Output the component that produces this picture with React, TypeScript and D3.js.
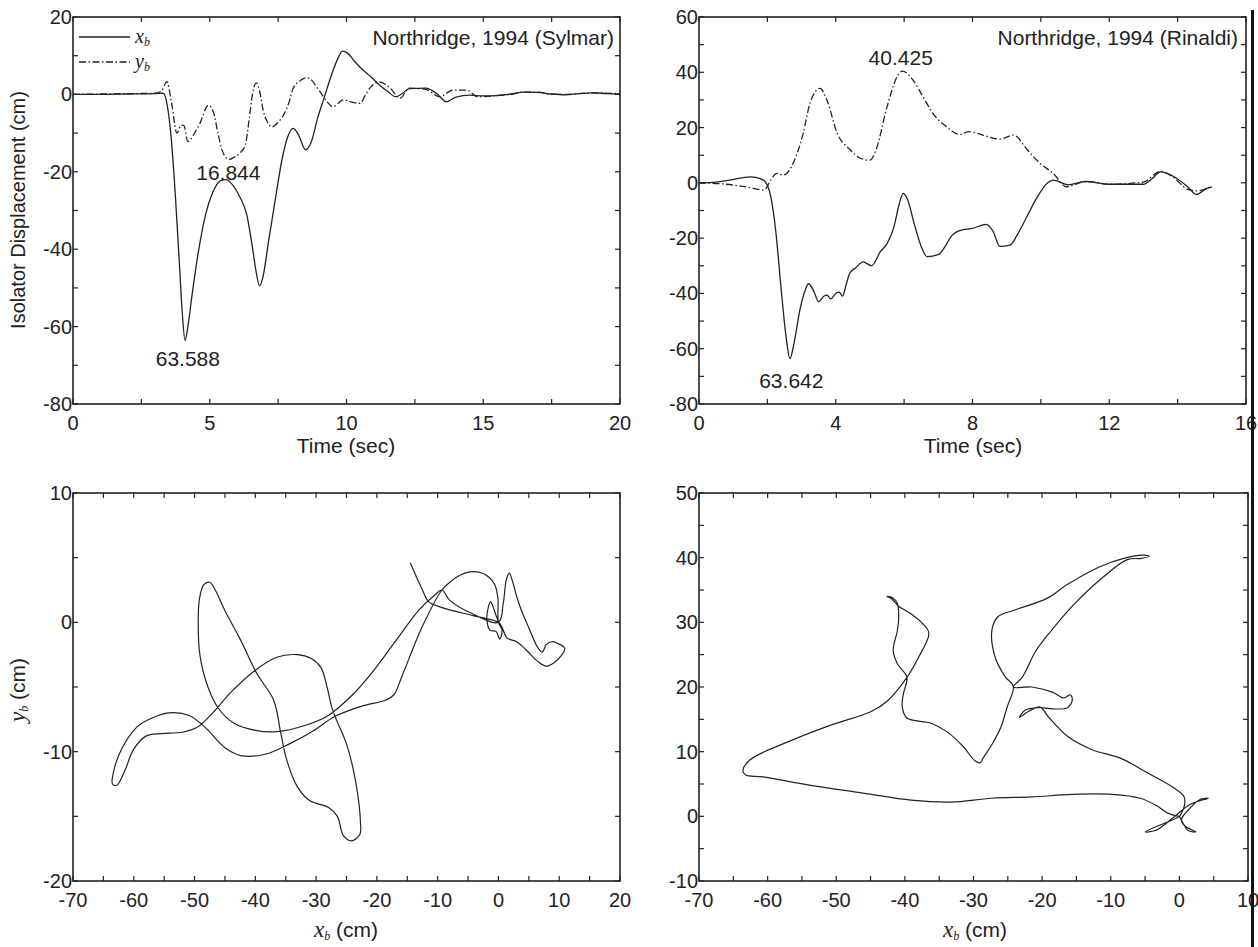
import React from "react";
import * as d3 from "d3";

// Northridge 1994, Sylmar record: isolator displacement (cm) vs time (sec)
const sylmarXb: [number, number][] = [
  [0, 0], [1, 0], [2, 0.1], [3, 0.2], [3.3, 0.3], [3.45, -3], [3.6, -12], [3.75, -27], [3.9, -45],
  [4.0, -57], [4.1, -63.6], [4.2, -60], [4.35, -52], [4.6, -40], [4.85, -31], [5.1, -25.5],
  [5.4, -22.3], [5.6, -22], [5.85, -23.5], [6.1, -26.5], [6.35, -31], [6.55, -39], [6.7, -46],
  [6.82, -49.5], [6.95, -47], [7.15, -38], [7.4, -27], [7.65, -16.5], [7.85, -11], [8.05, -8.8],
  [8.25, -10.5], [8.5, -14.3], [8.7, -12.5], [8.95, -6], [9.2, -0.5], [9.45, 5], [9.7, 9.5],
  [9.85, 11.2], [10.05, 10.6], [10.3, 8.5], [10.6, 6.3], [10.9, 4.5], [11.2, 2.4], [11.5, 0.8],
  [11.8, -0.6], [12.05, 0.3], [12.3, 1.5], [12.9, 1.6], [13.3, 0.2], [13.65, -1.9], [14.0, -0.7],
  [14.5, -0.2], [15, -0.4], [15.5, -0.3], [16, 0.1], [16.5, 0.6], [17, 0.5], [17.5, 0.1],
  [18, -0.1], [18.5, 0.2], [19, 0.4], [19.5, 0.2], [20, 0.1],
];

const sylmarYb: [number, number][] = [
  [0, 0], [1, 0.1], [2, 0.2], [3, 0.3], [3.25, 1], [3.43, 3.3], [3.6, -2], [3.8, -10], [3.95, -8],
  [4.05, -8], [4.2, -12.2], [4.4, -10.5], [4.64, -7.5], [4.95, -2.8], [5.13, -4.5], [5.3, -10],
  [5.45, -14.4], [5.7, -16.8], [5.9, -16.2], [6.1, -15.2], [6.3, -13], [6.45, -6], [6.55, -0.5],
  [6.7, 3], [6.85, 0], [6.95, -4], [7.1, -7], [7.27, -8.4], [7.5, -7.2], [7.7, -5.3], [7.9, -2],
  [8.05, 1.6], [8.3, 3.5], [8.55, 4.3], [8.75, 3.5], [8.9, 2], [9.1, 0], [9.3, -2], [9.5, -3.2],
  [9.7, -2.3], [9.87, -1.4], [10.2, -2], [10.5, -2.3], [10.7, 0], [10.9, 2], [11.2, 3.2],
  [11.6, 1.6], [11.95, -1], [12.3, 1.6], [12.9, 1.3], [13.4, -0.6], [13.9, 1.1], [14.4, 1.1],
  [14.8, -0.6], [15.5, -0.3], [16, 0], [16.5, 0.6], [17, 0.6], [17.5, 0], [18, 0], [19, 0.4], [20, 0.2],
];

// Northridge 1994, Rinaldi record
const rinaldiXb: [number, number][] = [
  [0, 0], [0.5, 0.3], [0.9, 1], [1.5, 2.2], [1.8, 1.5], [1.95, 0.2], [2.1, -5], [2.25, -18],
  [2.4, -38], [2.55, -56], [2.66, -63.6], [2.78, -58], [2.95, -46], [3.1, -39], [3.2, -36.5],
  [3.35, -39], [3.5, -43], [3.65, -41], [3.75, -40.6], [3.85, -42], [4.0, -40], [4.1, -39.5],
  [4.2, -41], [4.3, -37], [4.4, -33], [4.6, -30.5], [4.8, -28.6], [5.05, -30], [5.3, -25],
  [5.5, -22], [5.7, -16], [5.85, -8], [5.97, -3.8], [6.1, -6], [6.3, -15], [6.5, -23],
  [6.67, -26.7], [7.0, -26], [7.2, -23], [7.4, -19], [7.7, -17], [8.0, -16.5], [8.4, -15],
  [8.6, -17.5], [8.8, -23], [9.1, -22.5], [9.3, -19], [9.6, -12], [9.9, -5], [10.2, 0],
  [10.35, 1], [10.8, -0.7], [11.3, 0.5], [12, -0.5], [13, -0.5], [13.25, 1.5], [13.5, 4],
  [13.9, 2.2], [14.3, -1.5], [14.55, -4.2], [14.85, -2], [15, -1.5],
];

const rinaldiYb: [number, number][] = [
  [0, 0], [0.7, -0.4], [1.4, -1.5], [1.9, -2.6], [2.1, 1], [2.27, 3.4], [2.47, 2.8], [2.75, 7],
  [3.05, 18], [3.25, 29], [3.54, 34.2], [3.74, 30], [4.04, 18], [4.42, 12], [4.7, 9], [5.0, 8.2],
  [5.18, 12], [5.5, 27.5], [5.8, 38.5], [5.95, 40.4], [6.27, 37], [6.56, 31], [6.85, 25],
  [7.24, 20.3], [7.63, 17.5], [7.9, 18.5], [8.3, 17.3], [8.8, 15.8], [9.2, 17.3], [9.6, 12],
  [9.97, 7.1], [10.36, 3.4], [10.75, -1.4], [11.3, 0.5], [12, -0.5], [13, 0.3], [13.5, 4.2],
  [13.9, 1.8], [14.3, -2.4], [14.55, -2.9], [14.9, -2],
];

// orbits: [xb, yb] in cm
const sylmarOrbit: [number, number][] = [
  [0, 0], [-0.6, 0.8], [-1.3, 1.6], [-1.7, 1.1], [-1.9, 0.2], [-1.4, -0.6], [-0.4, -0.7],
  [0.2, -1.3], [0.6, -0.6], [0, 0], [-0.1, 1.9], [-0.6, 2.9], [-1.6, 3.5], [-3, 3.85],
  [-4.7, 3.9], [-6.5, 3.6], [-8, 3.1], [-9.3, 2.5], [-12.6, -0.4], [-15.9, -4.2], [-17.2, -5.6],
  [-18.5, -6], [-22.6, -6.5], [-27, -7.3], [-30.5, -8.4], [-34.4, -9.4], [-38.4, -10.2],
  [-42.4, -10.3], [-45, -9.7], [-48.3, -8.1], [-50.9, -7.2], [-54.2, -7.0], [-57, -7.4],
  [-59.5, -8.1], [-62, -9.8], [-63.3, -11.5], [-63.5, -12.5], [-62.8, -12.6], [-61.5, -11.5],
  [-60, -9.8], [-58, -8.8], [-55.5, -8.6], [-52, -8.5], [-49.5, -8.1], [-47, -7], [-44, -5.4],
  [-40, -3.7], [-36.5, -2.7], [-33.1, -2.5], [-30.8, -2.8], [-29.2, -3.5], [-28.2, -5],
  [-27.4, -6.6], [-26.6, -7.6], [-25, -9.4], [-23.5, -12.3], [-22.7, -15.5], [-22.8, -16.4],
  [-24.2, -16.9], [-25.5, -16.5], [-26.5, -15], [-28, -14.3], [-31, -13.8], [-33.1, -12.7],
  [-34.8, -10.7], [-35.8, -8.6], [-37, -6], [-39.7, -4], [-42.5, -1.3], [-45, 0.9], [-46.6, 2.5],
  [-47.5, 3.1], [-48.5, 2.9], [-49.2, 1.8], [-49.4, 0], [-49.1, -2.6], [-47.8, -5], [-46, -6.7],
  [-43.5, -7.8], [-40, -8.35], [-36.4, -8.45], [-32, -8], [-28, -7.2], [-24, -5.6], [-21, -4],
  [-17, -1.5], [-13, 1], [-10.5, 2.1], [-9.3, 2.5], [-8, 1.7], [-4, 0.6], [0, 0], [0.8, 1.5],
  [1.3, 3.3], [1.8, 3.8], [2.3, 3.2], [3, 2], [3.8, 0.9], [4.7, -0.1], [5.6, -1.1], [6.4, -1.9],
  [7.2, -2.3], [7.9, -1.7], [8.8, -1.5], [9.6, -1.6], [10.9, -2], [10.3, -2.6], [9.2, -3.1],
  [7.9, -3.4], [6.4, -3], [4.7, -2.2], [3, -1.5], [1.4, -1.2], [0.6, -0.4], [0, 0], [-4, 0.5],
  [-9, 1.1], [-11.5, 1.6], [-12.5, 2.5], [-13.4, 3.4], [-14.5, 4.6],
];

const rinaldiOrbit: [number, number][] = [
  [0, 0], [-1.7, 0.5], [-3.4, 1.7], [-5.7, 2.8], [-9.8, 3.4], [-15.6, 3.4], [-21.5, 3],
  [-27.4, 2.8], [-33.3, 2.2], [-39.1, 2.5], [-46.1, 3.6], [-53.7, 4.8], [-60.7, 6.1],
  [-63.2, 6.4], [-63.6, 7], [-62.6, 8.7], [-56.6, 11.7], [-50.8, 14.1], [-44.9, 16.2],
  [-42.6, 17.8], [-39.7, 21.5], [-38, 24.6], [-36.5, 28.3], [-37.4, 29.8], [-39.1, 31.3],
  [-40.9, 32.5], [-42, 33.7], [-42.6, 34], [-41.8, 33.8], [-41.1, 32.9], [-40.9, 30.8],
  [-41.1, 28.7], [-41.7, 25.6], [-41.1, 23.6], [-39.7, 21.5], [-40.2, 19], [-40.4, 17],
  [-39.7, 15.2], [-36.2, 14.4], [-33.9, 13.1], [-31.5, 10.8], [-29.8, 8.6], [-29, 8.3],
  [-28.6, 9], [-27.2, 11.3], [-26, 13.8], [-25.1, 16.9], [-24.2, 20.1], [-25.4, 21.6],
  [-26.9, 24.8], [-27.3, 28.9], [-26.4, 30.9], [-24, 31.9], [-19.3, 33.7], [-16.4, 35.8],
  [-11.6, 38.6], [-8.1, 39.9], [-5.2, 40.4], [-4.4, 40.2], [-5.5, 39.9], [-7.6, 39.7],
  [-11.1, 37], [-15.7, 32.4], [-18.6, 28.8], [-20.9, 25.6], [-22.9, 21.5], [-24.2, 20],
  [-21.5, 20], [-18.5, 19.2], [-16.8, 18.3], [-15.9, 18.8], [-15.6, 18], [-16.3, 16.8],
  [-18, 16.6], [-20.5, 16.8], [-22.5, 16.4], [-23.3, 15.3], [-22, 16.2], [-20.3, 16.9],
  [-19.1, 15.4], [-16.2, 12.3], [-12.7, 10.3], [-8.6, 9], [-4.6, 6.7], [-1.1, 4.6], [0.7, 3],
  [0.7, 1.5], [0.3, 0.5], [0, 0], [-2, -1], [-5, -2.4], [-3.5, -2.2], [-1, -0.3], [1.5, 1.8],
  [4.2, 2.8], [3, 2.6], [1.5, 1.2], [0.3, -0.5], [0.8, -1.5], [2.4, -2.4], [1.3, -2.2],
  [0.5, -1], [0, 0],
];

const peakLabels = ["63.588", "16.844", "40.425", "63.642"];
const titles = ["Northridge, 1994 (Sylmar)", "Northridge, 1994 (Rinaldi)"];

const FONT = "'Liberation Sans', Arial, Helvetica, sans-serif";
const SERIF = "'Liberation Serif', 'Times New Roman', serif";
const INK = "#222";
const FS = 20; // tick labels
const FS_TXT = 21; // annotations, titles, axis labels

type PanelProps = {
  left: number;
  top: number;
  width: number;
  height: number;
  xDomain: [number, number];
  yDomain: [number, number];
  xMajor: number;
  xMinor: number;
  yMajor: number;
  yMinor: number;
  children: (x: d3.ScaleLinear<number, number>, y: d3.ScaleLinear<number, number>) => React.ReactNode;
};

function Panel({ left, top, width, height, xDomain, yDomain, xMajor, xMinor, yMajor, yMinor, children }: PanelProps) {
  const x = d3.scaleLinear().domain(xDomain).range([left, left + width]);
  const y = d3.scaleLinear().domain(yDomain).range([top + height, top]);
  const eps = 1e-9;
  const xt = d3.range(xDomain[0], xDomain[1] + eps, xMinor);
  const yt = d3.range(yDomain[0], yDomain[1] + eps, yMinor);
  const isMajor = (v: number, step: number, base: number) =>
    Math.abs((v - base) / step - Math.round((v - base) / step)) < 1e-6;
  const tl = 5;
  const bottom = top + height;
  const right = left + width;
  // plain hyphen for negatives, like the original plot
  const fmt = (v: number) => String(Math.round(v));
  return (
    <g>
      <defs>
        <clipPath id={`clip-${left}-${top}`}>
          <rect x={left} y={top} width={width} height={height} />
        </clipPath>
      </defs>
      <g clipPath={`url(#clip-${left}-${top})`}>{children(x, y)}</g>
      <rect x={left} y={top} width={width} height={height} fill="none" stroke={INK} strokeWidth={1.6} />
      {xt.map((v) => (
        <g key={`xt${v}`}>
          <line x1={x(v)} x2={x(v)} y1={bottom} y2={bottom - tl} stroke={INK} strokeWidth={1.2} />
          <line x1={x(v)} x2={x(v)} y1={top} y2={top + tl} stroke={INK} strokeWidth={1.2} />
          {isMajor(v, xMajor, xDomain[0]) && (
            <text x={x(v)} y={bottom + 26} textAnchor="middle" fontSize={FS} fontFamily={FONT} fill={INK}>
              {fmt(v)}
            </text>
          )}
        </g>
      ))}
      {yt.map((v) => (
        <g key={`yt${v}`}>
          <line x1={left} x2={left + tl} y1={y(v)} y2={y(v)} stroke={INK} strokeWidth={1.2} />
          <line x1={right} x2={right - tl} y1={y(v)} y2={y(v)} stroke={INK} strokeWidth={1.2} />
          {isMajor(v, yMajor, yDomain[0]) && (
            <text x={left - 1} y={y(v) + 7} textAnchor="end" fontSize={FS} fontFamily={FONT} fill={INK}>
              {fmt(v)}
            </text>
          )}
        </g>
      ))}
    </g>
  );
}

const timeLine = (x: d3.ScaleLinear<number, number>, y: d3.ScaleLinear<number, number>) =>
  d3.line<[number, number]>().x((d) => x(d[0])).y((d) => y(d[1])).curve(d3.curveMonotoneX);

const orbitLine = (x: d3.ScaleLinear<number, number>, y: d3.ScaleLinear<number, number>) =>
  d3.line<[number, number]>().x((d) => x(d[0])).y((d) => y(d[1])).curve(d3.curveCatmullRom.alpha(0.5));

const DASHDOT = "7,2.5,1.5,2.5";

function SubLabel({ x, y, sym, rotate }: { x: number; y: number; sym: string; rotate?: boolean }) {
  return (
    <text
      x={rotate ? 0 : x}
      y={rotate ? 0 : y}
      transform={rotate ? `translate(${x},${y}) rotate(-90)` : undefined}
      textAnchor="middle"
      fontSize={FS_TXT}
      fontFamily={FONT}
      fill={INK}
    >
      <tspan fontFamily={SERIF} fontStyle="italic" fontSize={23}>{sym}</tspan>
      <tspan fontFamily={SERIF} fontStyle="italic" fontSize={12} dy={3}>b</tspan>
      <tspan dy={-3}> (cm)</tspan>
    </text>
  );
}

export default function App() {
  const W = 1258;
  const H = 947;
  return (
    <svg width={W} height={H} style={{ position: "absolute", left: 0, top: 0, background: "#fff" }}>
      {/* top-left: Sylmar time history */}
      <Panel left={73} top={17} width={547} height={387} xDomain={[0, 20]} yDomain={[-80, 20]}
        xMajor={5} xMinor={2.5} yMajor={20} yMinor={10}>
        {(x, y) => (
          <g fill="none" stroke={INK} strokeWidth={1.3}>
            <path d={timeLine(x, y)(sylmarXb) ?? ""} />
            <path d={timeLine(x, y)(sylmarYb) ?? ""} strokeDasharray={DASHDOT} />
            <text x={x(4.2)} y={y(-70.3)} textAnchor="middle" fontSize={FS_TXT} fontFamily={FONT} fill={INK} stroke="none">{peakLabels[0]}</text>
            <text x={x(5.68)} y={y(-22.2)} textAnchor="middle" fontSize={FS_TXT} fontFamily={FONT} fill={INK} stroke="none">{peakLabels[1]}</text>
          </g>
        )}
      </Panel>
      <g fontFamily={FONT} fill={INK}>
        <text x={614} y={45} textAnchor="end" fontSize={FS_TXT}>{titles[0]}</text>
        <line x1={79} x2={130} y1={37} y2={37} stroke={INK} strokeWidth={1.3} />
        <line x1={79} x2={130} y1={62} y2={62} stroke={INK} strokeWidth={1.3} strokeDasharray={DASHDOT} />
        <text x={135} y={43} fontSize={20} fontFamily={SERIF} fontStyle="italic">
          x<tspan fontSize={12} dy={3}>b</tspan>
        </text>
        <text x={135} y={68} fontSize={20} fontFamily={SERIF} fontStyle="italic">
          y<tspan fontSize={12} dy={3}>b</tspan>
        </text>
        <text x={346} y={453} textAnchor="middle" fontSize={FS_TXT}>Time (sec)</text>
        <text transform="translate(25,210) rotate(-90)" textAnchor="middle" fontSize={20}>
          Isolator Displacement (cm)
        </text>
      </g>

      {/* top-right: Rinaldi time history */}
      <Panel left={699} top={17} width={547} height={387} xDomain={[0, 16]} yDomain={[-80, 60]}
        xMajor={4} xMinor={2} yMajor={20} yMinor={10}>
        {(x, y) => (
          <g fill="none" stroke={INK} strokeWidth={1.3}>
            <path d={timeLine(x, y)(rinaldiXb) ?? ""} />
            <path d={timeLine(x, y)(rinaldiYb) ?? ""} strokeDasharray={DASHDOT} />
            <text x={x(2.7)} y={y(-74.3)} textAnchor="middle" fontSize={FS_TXT} fontFamily={FONT} fill={INK} stroke="none">{peakLabels[3]}</text>
            <text x={x(5.9)} y={y(42.7)} textAnchor="middle" fontSize={FS_TXT} fontFamily={FONT} fill={INK} stroke="none">{peakLabels[2]}</text>
          </g>
        )}
      </Panel>
      <g fontFamily={FONT} fill={INK}>
        <text x={1238} y={45} textAnchor="end" fontSize={FS_TXT}>{titles[1]}</text>
        <text x={973} y={453} textAnchor="middle" fontSize={FS_TXT}>Time (sec)</text>
      </g>

      {/* bottom-left: Sylmar orbit */}
      <Panel left={73} top={493} width={547} height={388} xDomain={[-70, 20]} yDomain={[-20, 10]}
        xMajor={10} xMinor={5} yMajor={10} yMinor={5}>
        {(x, y) => (
          <path d={orbitLine(x, y)(sylmarOrbit) ?? ""} fill="none" stroke={INK} strokeWidth={1.2} />
        )}
      </Panel>
      <SubLabel x={346} y={937} sym="x" />
      <SubLabel x={25} y={690} sym="y" rotate />

      {/* bottom-right: Rinaldi orbit */}
      <Panel left={699} top={493} width={549} height={388} xDomain={[-70, 10]} yDomain={[-10, 50]}
        xMajor={10} xMinor={5} yMajor={10} yMinor={5}>
        {(x, y) => (
          <path d={orbitLine(x, y)(rinaldiOrbit) ?? ""} fill="none" stroke={INK} strokeWidth={1.2} />
        )}
      </Panel>
      <SubLabel x={975} y={937} sym="x" />

      {/* scan edge on the right */}
      <rect x={1251} y={10} width={3} height={H - 10} fill="#111" />
    </svg>
  );
}
